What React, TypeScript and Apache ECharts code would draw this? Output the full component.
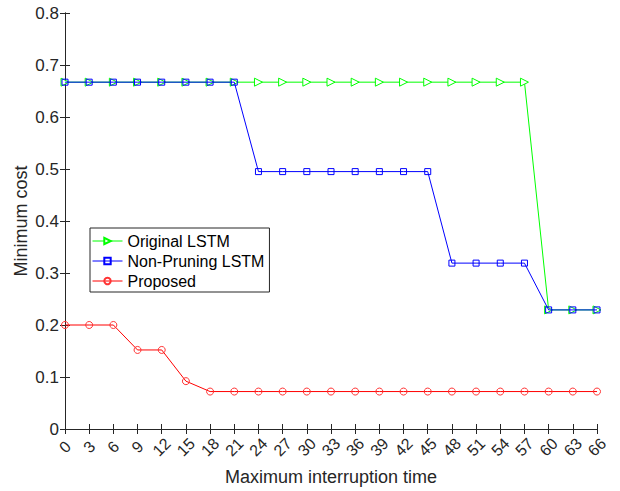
import React, { useEffect, useRef } from "react";
import * as echarts from "echarts";

const xValues = [0, 3, 6, 9, 12, 15, 18, 21, 24, 27, 30, 33, 36, 39, 42, 45, 48, 51, 54, 57, 60, 63, 66];
const originalLSTM = [0.667, 0.667, 0.667, 0.667, 0.667, 0.667, 0.667, 0.667, 0.667, 0.667, 0.667, 0.667, 0.667, 0.667, 0.667, 0.667, 0.667, 0.667, 0.667, 0.667, 0.229, 0.229, 0.229];
const nonPruningLSTM = [0.667, 0.667, 0.667, 0.667, 0.667, 0.667, 0.667, 0.667, 0.495, 0.495, 0.495, 0.495, 0.495, 0.495, 0.495, 0.495, 0.319, 0.319, 0.319, 0.319, 0.229, 0.229, 0.229];
const proposed = [0.2, 0.2, 0.2, 0.152, 0.152, 0.092, 0.072, 0.072, 0.072, 0.072, 0.072, 0.072, 0.072, 0.072, 0.072, 0.072, 0.072, 0.072, 0.072, 0.072, 0.072, 0.072, 0.072];
const seriesNames = ["Original LSTM", "Non-Pruning LSTM", "Proposed"];

const FONT = "Liberation Sans, Arial, sans-serif";
const AXIS_COLOR = "#262626";

export default function App() {
  const ref = useRef<HTMLDivElement>(null);
  useEffect(() => {
    if (!ref.current) return;
    const chart = echarts.init(ref.current, undefined, { renderer: "svg" });
    const pairs = (ys: number[]) => xValues.map((x, i) => [x, ys[i]]);
    const axisCommon = {
      axisLine: { show: true, lineStyle: { color: AXIS_COLOR, width: 1 } },
      axisTick: { show: true, inside: true, length: 5, lineStyle: { color: AXIS_COLOR } },
      splitLine: { show: false },
    };
    chart.setOption({
      animation: false,
      backgroundColor: "#ffffff",
      textStyle: { fontFamily: FONT },
      grid: { left: 65, right: 23, top: 13, bottom: 60, containLabel: false },
      legend: {
        orient: "vertical",
        left: 90,
        top: 228,
        data: seriesNames,
        itemWidth: 30,
        itemHeight: 8,
        itemGap: 4,
        padding: [5, 5, 3, 2],
        backgroundColor: "#ffffff",
        borderColor: AXIS_COLOR,
        borderWidth: 1,
        borderRadius: 0,
        lineStyle: { width: 1 },
        textStyle: { fontSize: 16, color: "#000000", fontFamily: FONT },
      },
      xAxis: [
        {
          type: "value",
          min: 0,
          max: 66,
          interval: 3,
          ...axisCommon,
          axisLabel: {
            rotate: 45,
            align: "center",
            verticalAlign: "middle",
            fontSize: 16,
            color: AXIS_COLOR,
            margin: 18,
            fontFamily: FONT,
          },
          name: "Maximum interruption time",
          nameLocation: "middle",
          nameGap: 39,
          nameMoveOverlap: false,
          nameTextStyle: { fontSize: 18, color: AXIS_COLOR, fontFamily: FONT },
        },
        {
          type: "value",
          position: "top",
          min: 0,
          max: 66,
          interval: 3,
          ...axisCommon,
          axisLabel: { show: false },
        },
      ],
      yAxis: [
        {
          type: "value",
          min: 0,
          max: 0.8,
          interval: 0.1,
          ...axisCommon,
          axisLabel: {
            fontSize: 17,
            color: AXIS_COLOR,
            margin: 6,
            fontFamily: FONT,
            formatter: (v: number) => (v === 0 ? "0" : v.toFixed(1)),
          },
          name: "Minimum cost",
          nameLocation: "middle",
          nameGap: 35,
          nameMoveOverlap: false,
          nameTextStyle: { fontSize: 18, color: AXIS_COLOR, fontFamily: FONT },
        },
        {
          type: "value",
          position: "right",
          min: 0,
          max: 0.8,
          interval: 0.1,
          ...axisCommon,
          axisLabel: { show: false },
        },
      ],
      series: [
        {
          name: seriesNames[0],
          type: "line",
          data: pairs(originalLSTM),
          symbol: "triangle",
          symbolRotate: -90,
          symbolSize: 8,
          lineStyle: { color: "#00ff00", width: 1 },
          itemStyle: { color: "#ffffff", borderColor: "#00ff00", borderWidth: 1 },
          z: 2,
        },
        {
          name: seriesNames[1],
          type: "line",
          data: pairs(nonPruningLSTM),
          symbol: "rect",
          symbolSize: 6,
          lineStyle: { color: "#0000ff", width: 1 },
          itemStyle: { color: "transparent", borderColor: "#0000ff", borderWidth: 1 },
          z: 3,
        },
        {
          name: seriesNames[2],
          type: "line",
          data: pairs(proposed),
          symbol: "circle",
          symbolSize: 7,
          lineStyle: { color: "#ff0000", width: 1 },
          itemStyle: { color: "transparent", borderColor: "#ff3333", borderWidth: 1 },
          z: 4,
        },
      ],
    });
    return () => chart.dispose();
  }, []);
  return <div ref={ref} style={{ position: "fixed", left: 0, top: 0, width: 620, height: 491 }} />;
}
